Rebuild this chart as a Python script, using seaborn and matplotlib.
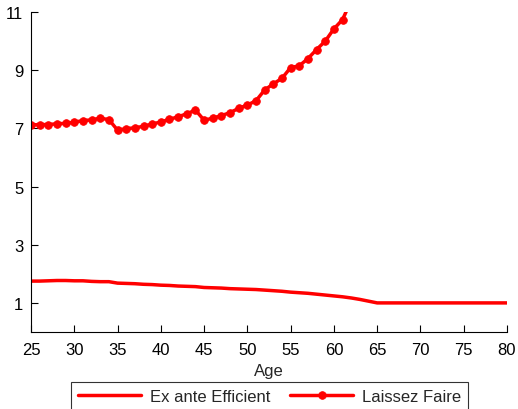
import matplotlib
matplotlib.use("Agg")
import matplotlib.pyplot as plt
import seaborn as sns
import pandas as pd

sns.set_style("ticks")
plt.rcParams["font.family"] = ["Liberation Sans", "DejaVu Sans"]

# Ages and the two wedge profiles
ages_efficient = list(range(25, 81))
ex_ante_efficient = [
    1.75, 1.75, 1.76, 1.77, 1.77, 1.76, 1.76, 1.74, 1.73, 1.73,
    1.68, 1.67, 1.66, 1.64, 1.63, 1.61, 1.60, 1.58, 1.57, 1.56,
    1.53, 1.52, 1.51, 1.49, 1.48, 1.47, 1.46, 1.44, 1.42, 1.40,
    1.37, 1.35, 1.33, 1.30, 1.27, 1.24, 1.21, 1.17, 1.12, 1.06,
    1.00, 1.00, 1.00, 1.00, 1.00, 1.00, 1.00, 1.00, 1.00, 1.00,
    1.00, 1.00, 1.00, 1.00, 1.00, 1.00,
]

ages_laissez = list(range(25, 63))
laissez_faire = [
    7.12, 7.13, 7.13, 7.16, 7.17, 7.21, 7.27, 7.29, 7.35, 7.30,
    6.94, 6.99, 7.02, 7.07, 7.15, 7.22, 7.31, 7.40, 7.50, 7.63,
    7.28, 7.35, 7.44, 7.54, 7.69, 7.80, 7.95, 8.32, 8.53, 8.72,
    9.09, 9.15, 9.40, 9.71, 10.00, 10.42, 10.74, 11.40,
]

x_ticks = list(range(25, 81, 5))
y_ticks = [1, 3, 5, 7, 9, 11]

df_eff = pd.DataFrame({"Age": ages_efficient, "value": ex_ante_efficient})
df_lf = pd.DataFrame({"Age": ages_laissez, "value": laissez_faire})

fig = plt.figure(figsize=(5.18, 4.10), dpi=100)
ax = fig.add_axes([31 / 518, 1 - 333 / 410, 476 / 518, 320 / 410])

sns.lineplot(data=df_eff, x="Age", y="value", ax=ax, color="#ff0000",
             linewidth=2.5, label="Ex ante Efficient")
sns.lineplot(data=df_lf, x="Age", y="value", ax=ax, color="#ff0000",
             linewidth=2.5, marker="o", markersize=6.5,
             markeredgewidth=0.6, markeredgecolor="#ff0000",
             label="Laissez Faire")

ax.set_xlim(25, 80)
ax.set_ylim(0, 11)
ax.set_xticks(x_ticks)
ax.set_yticks(y_ticks)
ax.tick_params(direction="in", length=5, width=0.8, labelsize=12,
               colors="black")
ax.tick_params(axis="x", pad=7.5)
ax.tick_params(axis="y", pad=5.5)
for s in ("top", "right"):
    ax.spines[s].set_visible(False)
for s in ("left", "bottom"):
    ax.spines[s].set_color("black")
    ax.spines[s].set_linewidth(0.8)

ax.set_xlabel("Age", fontsize=12, labelpad=4)
ax.set_ylabel("")

handles, labels = ax.get_legend_handles_labels()
for h in handles:
    h.set_markersize(5.5)
leg = ax.legend(handles, labels, loc="upper center",
                bbox_to_anchor=(0.501, -0.157), ncol=2, fontsize=12,
                frameon=True, fancybox=False, handlelength=3.8,
                handletextpad=0.5, columnspacing=1.2, borderpad=0.4,
                borderaxespad=0)
leg.get_frame().set_edgecolor("black")
leg.get_frame().set_linewidth(0.8)

fig.savefig("out.png", dpi=100)
